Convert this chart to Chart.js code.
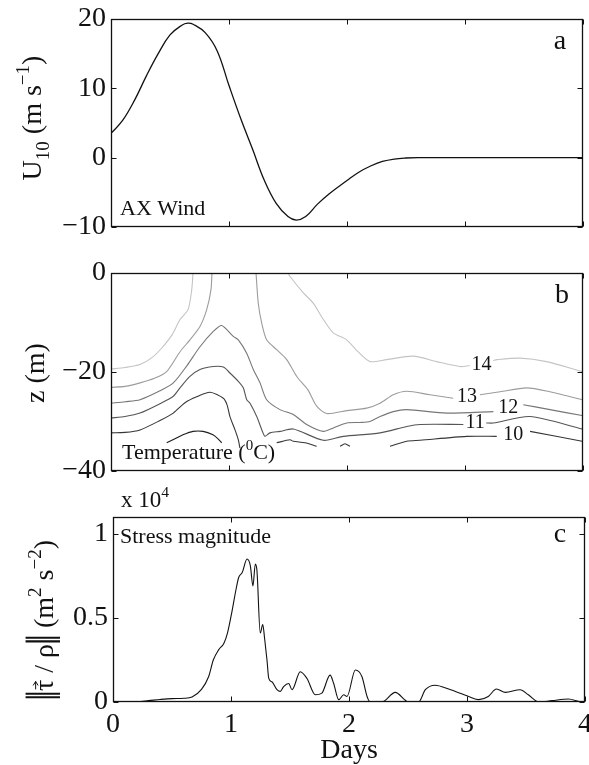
<!DOCTYPE html>
<html>
<head>
<meta charset="utf-8">
<title>Wind, temperature and stress</title>
<script src="https://cdn.jsdelivr.net/npm/chart.js@4.4.1/dist/chart.umd.min.js"></script>
<style>
    body { margin: 0; background: #fff; }
    canvas { position: absolute; left: 0; }
</style>
</head>
<body>
<canvas id="panelA" width="589" height="245" style="top:0px"></canvas>
<canvas id="panelB" width="589" height="250" style="top:245px"></canvas>
<canvas id="panelC" width="589" height="285" style="top:480px"></canvas>
<script>
'use strict';

var SERIF = '"Liberation Serif", "DejaVu Serif", "Times New Roman", serif';

// shared time axis
var dayTicks = [0, 1, 2, 3, 4];

// a: wind
var windDays = [0, 0.1, 0.2, 0.3, 0.4, 0.5, 0.6, 0.65, 0.7, 0.8, 0.9, 1.0, 1.1, 1.2, 1.3, 1.4, 1.5, 1.57, 1.65,
    1.75, 1.85, 2.0, 2.1, 2.2, 2.3, 2.4, 2.5, 2.6, 3.0, 3.5, 4.0];
var windU = [3.5, 5.4, 8.3, 11.8, 15.0, 17.7, 19.1, 19.4, 19.2, 18.0, 15.4, 10.4, 5.6, 1.2, -3.3, -6.6, -8.5, -9.0, -8.5,
    -6.7, -5.2, -3.3, -2.1, -1.2, -0.55, -0.2, -0.05, 0, 0, 0, 0];
var windTicks = [-10, 0, 10, 20];

// b: temperature contours (null = break in the line)
var c14Days = [0, 0.119, 0.246, 0.347, 0.432, 0.517, 0.585, 0.653, 0.684, 0.695, null,
    1.5, 1.517, 1.63, 1.714, 1.8, 1.884, 1.997, 2.093, 2.195, 2.336, 2.562, 2.76, 2.958, 3.04, null,
    3.24, 3.27, 3.466, 3.69, 3.99, 4.0];
var c14Z = [-19.4, -19.1, -18.5, -17.1, -15.1, -12.5, -9.4, -7.4, -3.4, 0, null,
    0, -0.7, -4.0, -6.1, -9.4, -12.1, -13.5, -15.9, -17.9, -17.5, -16.8, -17.9, -18.9, -18.7, null,
    -17.7, -17.5, -17.2, -17.9, -19.9, -19.9];
var c13Days = [0, 0.119, 0.246, 0.373, 0.472, 0.585, 0.669, 0.754, 0.811, 0.847, 0.856, null,
    1.229, 1.248, 1.277, 1.319, 1.404, 1.489, 1.574, 1.669, 1.743, 1.828, 1.997, 2.167, 2.28, 2.392, 2.506, 2.703, 2.9, null,
    3.127, 3.297, 3.523, 3.72, 3.992, 4.0];
var c13Z = [-23.1, -22.9, -22.2, -21.2, -19.9, -15.9, -13.5, -10.8, -7.4, -3.4, 0, null,
    0, -6.1, -10.1, -13.5, -15.5, -17.5, -20.9, -23.6, -26.9, -28.4, -27.8, -27.3, -26.3, -24.6, -23.9, -24.6, -25.3, null,
    -24.6, -24.0, -23.2, -24.0, -25.6, -25.7];
var c12Days = [0, 0.119, 0.246, 0.415, 0.528, 0.644, 0.754, 0.867, 0.938, 1.036, 1.079, 1.15, 1.206, 1.263, 1.319,
    1.432, 1.545, 1.658, 1.799, 1.884, 1.997, 2.11, 2.195, 2.28, 2.392, 2.506, 2.845, 3.24, null,
    3.494, 3.72, 3.992, 4.0];
var c12Z = [-26.3, -26.0, -25.6, -23.8, -22.2, -18.7, -14.9, -11.8, -10.6, -12.8, -13.5, -16.2, -19.5, -22.2, -25.6,
    -27.6, -28.6, -30.6, -32.0, -31.3, -30.3, -30.2, -30.0, -29.0, -28.0, -27.6, -28.3, -28.0, null,
    -26.6, -27.6, -28.8, -28.8];
var c11Days = [0, 0.119, 0.246, 0.415, 0.528, 0.585, 0.669, 0.754, 0.867, 0.952, 1.008, 1.079, 1.121, 1.15, 1.178,
    1.235, 1.288, 1.305, 1.347, 1.432, 1.545, 1.799, 1.969, 2.28, 2.506, 2.619, 2.986, null,
    3.18, 3.24, 3.55, 3.992, 4.0];
var c11Z = [-29.3, -29.0, -28.3, -26.4, -24.9, -23.2, -20.9, -19.5, -18.9, -19.0, -20.2, -21.9, -23.2, -25.6, -26.3,
    -29.0, -32.3, -33.0, -32.3, -32.0, -31.5, -33.8, -33.0, -32.3, -31.0, -30.6, -30.6, null,
    -30.3, -30.3, -29.0, -31.5, -31.6];
var c10Days = [0, 0.119, 0.246, 0.415, 0.528, 0.627, 0.726, 0.839, 0.952, 0.983, 1.008, 1.051, 1.079, 1.093, null,
    1.404, 1.517, 1.545, 1.644, 1.743, null,
    1.941, 1.983, 2.025, null,
    2.364, 2.506, 2.619, 3.014, 3.269, null,
    3.551, 3.992, 4.0];
var c10Z = [-32.3, -32.2, -31.7, -29.8, -28.3, -26.2, -25.0, -24.1, -25.3, -26.6, -29.0, -31.7, -33.7, -35.4, null,
    -34.3, -33.7, -34.0, -34.3, -35.0, null,
    -35.0, -34.5, -35.0, null,
    -35.0, -34.0, -33.8, -33.0, -33.0, null,
    -32.0, -34.0, -34.1];
var c9Days = [0.472, 0.542, 0.61, 0.695, 0.78, 0.864, 0.907, 0.938];
var c9Z = [-34.3, -33.5, -32.7, -32.0, -32.0, -32.7, -33.5, -34.3];
var depthTicks = [-40, -20, 0];

// inline contour labels
var contourLevels = [14, 13, 12, 11, 10];
var contourLabelDays = [3.14, 3.017, 3.367, 3.085, 3.409];
var contourLabelZ = [-18.5, -24.9, -27.3, -30.3, -32.7];

// c: stress magnitude (x 10^4)
var stressDays = [0, 0.2, 0.3, 0.4, 0.5, 0.6, 0.67, 0.75, 0.81, 0.85, 0.895, 0.94, 0.97, 1.01, 1.04, 1.065, 1.095,
    1.136, 1.164, 1.186, 1.206, 1.22, 1.248, 1.269, 1.286, 1.305, 1.32, 1.347, 1.39, 1.418, 1.446, 1.489, 1.517,
    1.587, 1.644, 1.715, 1.77, 1.84, 1.87, 1.913, 1.955, 1.983, 2.054, 2.11, 2.153, 2.18, 2.28, 2.392, 2.477, 2.5,
    2.59, 2.647, 2.73, 2.845, 3.014, 3.1, 3.18, 3.25, 3.325, 3.45, 3.52, 3.61, 3.72, 3.86, 3.975, 4.0];
var stress = [0, 0.002, 0.008, 0.015, 0.02, 0.022, 0.03, 0.075, 0.15, 0.25, 0.31, 0.35, 0.41, 0.545, 0.66, 0.74, 0.77,
    0.85, 0.81, 0.69, 0.82, 0.78, 0.41, 0.46, 0.37, 0.25, 0.14, 0.12, 0.073, 0.063, 0.092, 0.11, 0.073,
    0.18, 0.14, 0.043, 0.053, 0.16, 0.11, 0.014, 0.043, 0.033, 0.19, 0.15, 0.033, 0, 0, 0.057, 0.01, 0,
    0, 0.073, 0.1, 0.077, 0.033, 0.014, 0.033, 0.077, 0.057, 0.073, 0.043, 0, 0.008, 0.018, 0, 0];
var stressTicks = [0, 0.5, 1];

// pair x/y arrays; a null keeps the previous x so the line just breaks
function toPoints(xs, ys) {
    return xs.map(function (x, i) {
        return {x: x === null ? xs[i - 1] : x, y: ys[i]};
    });
}

function fmtTick(v) {
    return String(v).replace('-', '\u2212');
}

/**
 * Text made of parts: [text, kind]. kind is 'sub', 'sup', 'vec' (arrow over it),
 * 'norm' (heavy double bar) or nothing.
 */
function drawRich(ctx, parts, x, y, size, align) {
    var fontFor = function (p) {
        return ((p[1] === 'sub' || p[1] === 'sup') ? size * 0.68 : size) + 'px ' + SERIF;
    };
    var widths = parts.map(function (p) {
        if (p[1] === 'norm') {
            return size * 0.32;
        }
        ctx.font = fontFor(p);
        return ctx.measureText(p[0]).width;
    });
    var total = widths.reduce(function (a, b) { return a + b; }, 0);
    var cx = align === 'center' ? x - total / 2 : x;
    ctx.textAlign = 'left';
    ctx.textBaseline = 'alphabetic';
    parts.forEach(function (p, i) {
        var w = widths[i];
        if (p[1] === 'norm') {
            ctx.save();
            ctx.strokeStyle = ctx.fillStyle;
            ctx.lineWidth = size * 0.075;
            ctx.beginPath();
            [0.3, 0.7].forEach(function (f) {
                ctx.moveTo(cx + w * f, y + size * 0.25);
                ctx.lineTo(cx + w * f, y - size * 0.98);
            });
            ctx.stroke();
            ctx.restore();
        } else {
            ctx.font = fontFor(p);
            var dy = p[1] === 'sub' ? size * 0.28 : (p[1] === 'sup' ? -size * 0.42 : 0);
            ctx.fillText(p[0], cx, y + dy);
            if (p[1] === 'vec') {
                var ay = y - size * 0.62;
                ctx.save();
                ctx.strokeStyle = ctx.fillStyle;
                ctx.lineWidth = 1;
                ctx.beginPath();
                ctx.moveTo(cx + w * 0.15, ay);
                ctx.lineTo(cx + w * 0.85, ay);
                ctx.moveTo(cx + w * 0.85 - 4, ay - 2.5);
                ctx.lineTo(cx + w * 0.85, ay);
                ctx.lineTo(cx + w * 0.85 - 4, ay + 2.5);
                ctx.stroke();
                ctx.restore();
            }
        }
        cx += w;
    });
}

/**
 * Box, inward ticks on four sides, panel letter, y title and notes
 */
var panelDecor = {
    id: 'panelDecor',
    afterDraw: function (chart, args, opts) {
        var ctx = chart.ctx;
        var area = chart.chartArea;
        var xs = chart.scales.x, ys = chart.scales.y;
        var l = Math.round(area.left) + 0.5, r = Math.round(area.right) - 0.5;
        var t = Math.round(area.top) + 0.5, b = Math.round(area.bottom) - 0.5;
        ctx.save();
        ctx.strokeStyle = '#111';
        ctx.lineWidth = 1.3;
        ctx.strokeRect(l, t, r - l, b - t);

        ctx.lineWidth = 1;
        ctx.beginPath();
        dayTicks.forEach(function (v) {
            var px = Math.round(xs.getPixelForValue(v)) + 0.5;
            ctx.moveTo(px, b); ctx.lineTo(px, b - 5);
            ctx.moveTo(px, t); ctx.lineTo(px, t + 5);
        });
        opts.yTicks.forEach(function (v) {
            var py = Math.round(ys.getPixelForValue(v)) + 0.5;
            ctx.moveTo(l, py); ctx.lineTo(l + 5, py);
            ctx.moveTo(r, py); ctx.lineTo(r - 5, py);
        });
        ctx.stroke();

        ctx.fillStyle = '#111';
        ctx.font = '28px ' + SERIF;
        ctx.textAlign = 'center';
        ctx.textBaseline = 'alphabetic';
        ctx.fillText(opts.letter, opts.letterPos[0], opts.letterPos[1]);

        ctx.save();
        ctx.translate(opts.yTitlePos[0], opts.yTitlePos[1]);
        ctx.rotate(-Math.PI / 2);
        drawRich(ctx, opts.yTitle, 0, 0, opts.yTitleSize || 28, 'center');
        ctx.restore();

        (opts.notes || []).forEach(function (n) {
            drawRich(ctx, n.parts, n.x, n.y, n.size, 'left');
        });
        ctx.restore();
    }
};

// contour level numbers placed through the scales
var contourLabels = {
    id: 'contourLabels',
    afterDatasetsDraw: function (chart, args, opts) {
        if (!opts.show) {
            return;
        }
        var ctx = chart.ctx;
        ctx.save();
        ctx.fillStyle = '#111';
        ctx.font = '20px ' + SERIF;
        ctx.textAlign = 'center';
        ctx.textBaseline = 'middle';
        contourLevels.forEach(function (lev, i) {
            ctx.fillText(String(lev),
                chart.scales.x.getPixelForValue(contourLabelDays[i]),
                chart.scales.y.getPixelForValue(contourLabelZ[i]));
        });
        ctx.restore();
    }
};

function yAxis(min, max, ticks, width) {
    return {
        type: 'linear',
        min: min,
        max: max,
        grid: {display: false, drawTicks: false},
        border: {display: false},
        ticks: {
            color: '#111',
            padding: 5,
            font: {family: SERIF, size: 28},
            callback: function (v) { return fmtTick(v); }
        },
        afterBuildTicks: function (scale) {
            scale.ticks = ticks.map(function (v) { return {value: v}; });
        },
        afterFit: function (scale) {
            scale.width = width;
            scale.paddingTop = 0;
            scale.paddingBottom = 0;
        }
    };
}

function hiddenXAxis() {
    return {type: 'linear', min: 0, max: 4, display: false};
}

function lineSet(xs, ys, color, extra) {
    var ds = {
        data: toPoints(xs, ys),
        borderColor: color,
        borderWidth: 1.1,
        pointRadius: 0,
        tension: 0.25,
        spanGaps: false
    };
    Object.keys(extra || {}).forEach(function (k) { ds[k] = extra[k]; });
    return ds;
}

function baseOptions(padding) {
    return {
        responsive: false,
        animation: false,
        devicePixelRatio: 1,
        layout: {padding: padding},
        plugins: {legend: {display: false}, tooltip: {enabled: false}}
    };
}

// panel a
var optA = baseOptions({top: 19, bottom: 18, left: 0, right: 6});
optA.scales = {x: hiddenXAxis(), y: yAxis(-10, 20, windTicks, 111)};
optA.plugins.panelDecor = {
    letter: 'a', letterPos: [560, 49], yTicks: windTicks,
    yTitle: [['U'], ['10', 'sub'], [' (m s'], ['\u22121', 'sup'], [')']],
    yTitlePos: [41, 118],
    notes: [{parts: [['AX Wind']], x: 120, y: 215, size: 22}]
};
new Chart(document.getElementById('panelA'), {
    type: 'line',
    data: {datasets: [lineSet(windDays, windU, '#111', {tension: 0.4, borderWidth: 1.3})]},
    options: optA,
    plugins: [panelDecor]
});

// panel b
var optB = baseOptions({top: 28, bottom: 24, left: 0, right: 6});
optB.scales = {x: hiddenXAxis(), y: yAxis(-40, 0, depthTicks, 111)};
optB.plugins.panelDecor = {
    letter: 'b', letterPos: [562, 58], yTicks: depthTicks,
    yTitle: [['z (m)']],
    yTitlePos: [44, 128],
    notes: [{parts: [['Temperature ('], ['0', 'sup'], ['C)']], x: 122, y: 214, size: 22}]
};
optB.plugins.contourLabels = {show: true};
new Chart(document.getElementById('panelB'), {
    type: 'line',
    data: {datasets: [
        lineSet(c14Days, c14Z, '#c4c4c4'),
        lineSet(c13Days, c13Z, '#9c9c9c'),
        lineSet(c12Days, c12Z, '#777777'),
        lineSet(c11Days, c11Z, '#555555'),
        lineSet(c10Days, c10Z, '#363636'),
        lineSet(c9Days, c9Z, '#1c1c1c')
    ]},
    options: optB,
    plugins: [panelDecor, contourLabels]
});

// panel c
var optC = baseOptions({top: 37, bottom: 0, left: 0, right: 4});
optC.scales = {
    x: {
        type: 'linear', min: 0, max: 4,
        grid: {display: false, drawTicks: false},
        border: {display: false},
        ticks: {color: '#111', padding: 6, font: {family: SERIF, size: 28}, maxRotation: 0},
        afterBuildTicks: function (scale) {
            scale.ticks = dayTicks.map(function (v) { return {value: v}; });
        },
        title: {
            display: true, text: 'Days', color: '#111',
            font: {family: SERIF, size: 28, lineHeight: 1},
            padding: {top: 0, bottom: 0}
        },
        afterFit: function (scale) {
            scale.height = 63;
            scale.paddingLeft = 0;
            scale.paddingRight = 0;
        }
    },
    y: yAxis(0, 1.1, stressTicks, 113)
};
optC.plugins.panelDecor = {
    letter: 'c', letterPos: [560, 62], yTicks: stressTicks,
    yTitle: [['', 'norm'], ['\u03C4', 'vec'], [' / \u03C1'], ['', 'norm'], [' (m'], ['2', 'sup'], [' s'], ['\u22122', 'sup'], [')']],
    yTitlePos: [53, 140],
    notes: [
        {parts: [['x 10'], ['4', 'sup']], x: 121, y: 27, size: 23},
        {parts: [['Stress magnitude']], x: 120, y: 63, size: 22}
    ]
};
new Chart(document.getElementById('panelC'), {
    type: 'line',
    data: {datasets: [lineSet(stressDays, stress, '#111', {cubicInterpolationMode: 'monotone'})]},
    options: optC,
    plugins: [panelDecor]
});
</script>
</body>
</html>
